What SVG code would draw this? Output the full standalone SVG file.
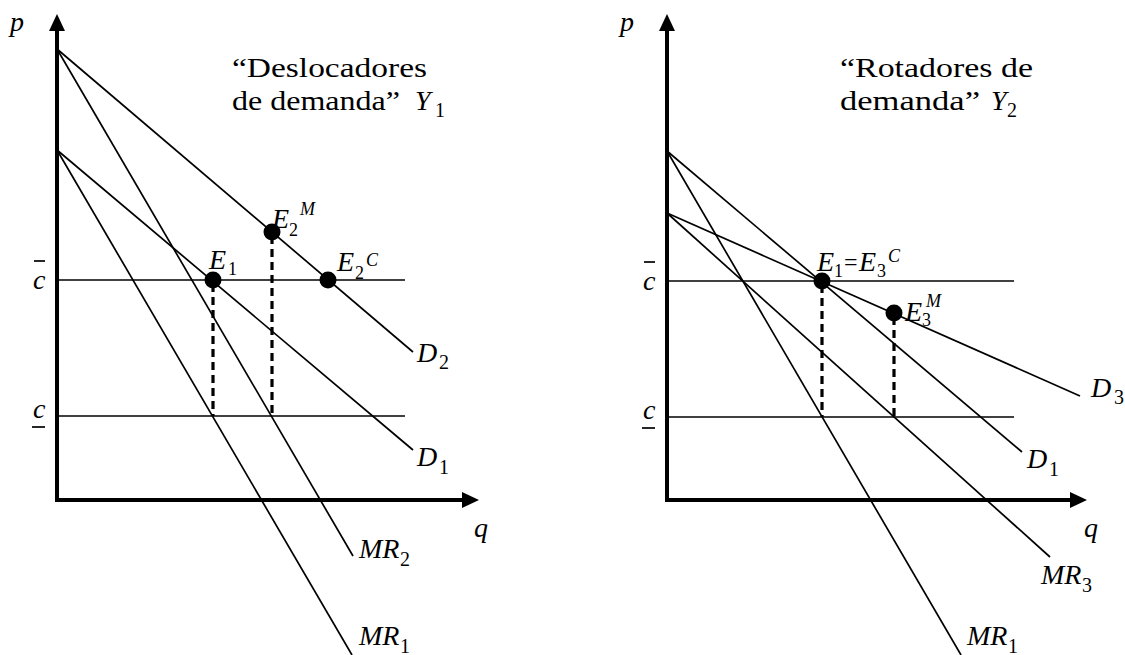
<svg xmlns="http://www.w3.org/2000/svg" width="1125" height="655" viewBox="0 0 1125 655">
<style>
.ax{stroke:#000;stroke-width:4;fill:none}
.ln{stroke:#000;stroke-width:1.7;fill:none}
.ds{stroke:#000;stroke-width:3.2;fill:none;stroke-dasharray:8 5}
.ah{fill:#000}
.dot{fill:#000}
.t{font-family:"Liberation Serif","Times New Roman",serif;font-size:28px;fill:#000}
.eq{font-family:"Liberation Serif","Times New Roman",serif;font-size:24px;fill:#000}
.i{font-family:"Liberation Serif","Times New Roman",serif;font-style:italic;font-size:28px;fill:#000}
.s{font-family:"Liberation Serif","Times New Roman",serif;font-size:20px;fill:#000}
.ss{font-family:"Liberation Serif","Times New Roman",serif;font-size:18px;fill:#000}
.si{font-family:"Liberation Serif","Times New Roman",serif;font-style:italic;font-size:18px;fill:#000}
</style>
<rect width="1125" height="655" fill="#fff"/>
<g id="axes">
  <line class="ax" x1="57" y1="502" x2="57" y2="28"/>
  <polygon class="ah" points="57,14 49,31 65,31"/>
  <line class="ax" x1="55" y1="500" x2="464" y2="500"/>
  <polygon class="ah" points="479,500 462,492 462,508"/>
  <line class="ax" x1="667" y1="502" x2="667" y2="28"/>
  <polygon class="ah" points="667,14 659,31 675,31"/>
  <line class="ax" x1="665" y1="500" x2="1072" y2="500"/>
  <polygon class="ah" points="1087,500 1070,492 1070,508"/>
</g>
<g id="connectors">
  <line class="ln" x1="57" y1="280" x2="405" y2="280"/>
  <line class="ln" x1="57" y1="416" x2="405" y2="416"/>
  <line class="ln" x1="57" y1="49" x2="413" y2="352"/>
  <line class="ln" x1="57" y1="150" x2="413" y2="450"/>
  <line class="ln" x1="57" y1="49" x2="353" y2="556"/>
  <line class="ln" x1="57" y1="150" x2="352" y2="655"/>
  <line class="ds" x1="213" y1="284" x2="213" y2="416"/>
  <line class="ds" x1="272" y1="236" x2="272" y2="416"/>
  <line class="ln" x1="667" y1="281" x2="1014" y2="281"/>
  <line class="ln" x1="667" y1="417" x2="1014" y2="417"/>
  <line class="ln" x1="667" y1="151" x2="1022" y2="452"/>
  <line class="ln" x1="667" y1="213" x2="1080" y2="396"/>
  <line class="ln" x1="667" y1="151" x2="961" y2="655"/>
  <line class="ln" x1="667" y1="213" x2="1050" y2="557"/>
  <line class="ds" x1="822" y1="285" x2="822" y2="417"/>
  <line class="ds" x1="894" y1="317" x2="894" y2="417"/>
</g>
<g id="axis-labels">
  <text class="i" x="10" y="31">p</text>
  <text class="i" x="474" y="537">q</text>
  <text class="i" x="620" y="31">p</text>
  <text class="i" x="1084" y="537">q</text>
  <text class="i" x="33" y="289">c</text>
  <line class="ln" x1="34" y1="261" x2="45" y2="261"/>
  <text class="i" x="33" y="418">c</text>
  <line class="ln" x1="32" y1="427" x2="45" y2="427"/>
  <text class="i" x="643" y="290">c</text>
  <line class="ln" x1="644" y1="262" x2="655" y2="262"/>
  <text class="i" x="643" y="419">c</text>
  <line class="ln" x1="642" y1="428" x2="655" y2="428"/>
</g>
<g id="title-left">
  <text class="t" x="232" y="77" textLength="195" lengthAdjust="spacingAndGlyphs">“Deslocadores</text>
  <text class="t" x="232" y="110" textLength="168" lengthAdjust="spacingAndGlyphs">de demanda”</text>
  <text class="i" x="415" y="110">Y</text>
  <text class="s" x="435" y="117">1</text>
</g>
<g id="title-right">
  <text class="t" x="840" y="77" textLength="193" lengthAdjust="spacingAndGlyphs">“Rotadores de</text>
  <text class="t" x="840" y="110" textLength="140" lengthAdjust="spacingAndGlyphs">demanda”</text>
  <text class="i" x="991" y="110">Y</text>
  <text class="s" x="1007" y="117">2</text>
</g>
<g id="E1-left">
  <circle class="dot" cx="213" cy="280" r="8.5"/>
  <text class="i" x="209" y="269">E</text>
  <text class="ss" x="228" y="275">1</text>
</g>
<g id="E2M">
  <circle class="dot" cx="272" cy="232" r="8.5"/>
  <text class="i" x="272" y="228">E</text>
  <text class="ss" x="289" y="236">2</text>
  <text class="si" x="300" y="215">M</text>
</g>
<g id="E2C">
  <circle class="dot" cx="328" cy="280" r="8.5"/>
  <text class="i" x="337" y="271">E</text>
  <text class="ss" x="355" y="279">2</text>
  <text class="si" x="366" y="266">C</text>
</g>
<g id="D2-left">
  <text class="i" x="417" y="362">D</text>
  <text class="s" x="439" y="369">2</text>
</g>
<g id="D1-left">
  <text class="i" x="417" y="466">D</text>
  <text class="s" x="439" y="474">1</text>
</g>
<g id="MR2-left">
  <text class="i" x="359" y="558">MR</text>
  <text class="s" x="400" y="566">2</text>
</g>
<g id="MR1-left">
  <text class="i" x="359" y="645">MR</text>
  <text class="s" x="400" y="653">1</text>
</g>
<g id="E1-E3C">
  <circle class="dot" cx="822" cy="281" r="8.5"/>
  <text class="i" x="817" y="271">E</text>
  <text class="ss" x="834" y="277">1</text>
  <text class="eq" x="844" y="270">=</text>
  <text class="i" x="859" y="271">E</text>
  <text class="ss" x="877" y="277">3</text>
  <text class="si" x="888" y="262">C</text>
</g>
<g id="E3M">
  <circle class="dot" cx="894" cy="313" r="8.5"/>
  <text class="i" x="905" y="321">E</text>
  <text class="ss" x="922" y="326">3</text>
  <text class="si" x="926" y="307">M</text>
</g>
<g id="D3-right">
  <text class="i" x="1091" y="397">D</text>
  <text class="s" x="1114" y="404">3</text>
</g>
<g id="D1-right">
  <text class="i" x="1027" y="468">D</text>
  <text class="s" x="1049" y="476">1</text>
</g>
<g id="MR3-right">
  <text class="i" x="1041" y="584">MR</text>
  <text class="s" x="1082" y="592">3</text>
</g>
<g id="MR1-right">
  <text class="i" x="967" y="645">MR</text>
  <text class="s" x="1008" y="653">1</text>
</g>
</svg>
